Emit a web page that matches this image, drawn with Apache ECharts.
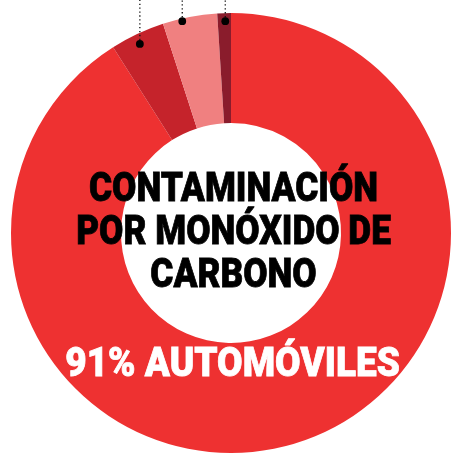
<!DOCTYPE html>
<html>
<head>
<meta charset="utf-8">
<script src="https://cdn.jsdelivr.net/npm/echarts@6/dist/echarts.min.js"></script>
<style>
html,body{margin:0;padding:0;background:#fff;}
#chart{width:451px;height:454px;}
</style>
</head>
<body>
<div id="chart"></div>
<script>
// ---- data ----
const categories = ['AUTOMÓVILES', 'Fuente 2', 'Fuente 3', 'Fuente 4'];
const shares = [91, 4, 4, 1];
const sliceColors = ['#EE3131', '#C5232B', '#F08080', '#8A1C2C'];
const titleLines = ['CONTAMINACIÓN', 'POR MONÓXIDO DE', 'CARBONO'];
// callout markers: position along the ring (share units, 0-100) and depth (% of outer radius)
const calloutAt = [92.85, 96.4, 99.57];
const calloutDepth = [95.4, 98.8, 96.3];

const cx = 231, cy = 233, rOut = 220, rIn = 110;

const chart = echarts.init(document.getElementById('chart'), null, {renderer: 'canvas'});

const mainLabel = shares[0] + '% ' + categories[0];

const option = {
  animation: false,
  backgroundColor: '#ffffff',
  polar: {center: [cx, cy], radius: rOut},
  angleAxis: {type: 'value', min: 0, max: 100, startAngle: 90, clockwise: true, show: false},
  radiusAxis: {type: 'value', min: 0, max: 100, show: false},
  series: [
    {
      type: 'pie',
      z: 1,
      center: [cx, cy],
      radius: [rIn, rOut],
      startAngle: 90,
      clockwise: true,
      silent: true,
      label: {show: false},
      labelLine: {show: false},
      data: categories.map((c, i) => ({
        name: c, value: shares[i],
        itemStyle: {color: sliceColors[i], borderWidth: 0}
      }))
    },
    {
      type: 'custom',
      coordinateSystem: 'polar',
      z: 20,
      silent: true,
      data: calloutAt.map((a, i) => [calloutDepth[i], a]),
      renderItem: function (params, api) {
        const p = api.coord([api.value(0), api.value(1)]);
        return {
          type: 'group',
          children: [
            {type: 'line', shape: {x1: p[0], y1: p[1], x2: p[0], y2: 0},
             style: {stroke: '#111', lineWidth: 1.3, lineDash: [1.3, 2.6]}},
            {type: 'circle', shape: {cx: p[0], cy: p[1], r: 3.9}, style: {fill: '#000'}}
          ]
        };
      }
    }
  ],
  graphic: [
    ...titleLines.map((t, i) => ({
      type: 'text',
      z: 100,
      x: cx + 2.5, y: 190.5 + i * 43.3,
      scaleX: 0.86,
      style: {text: t, font: '900 41px Roboto', fill: '#000', align: 'center', verticalAlign: 'middle',
              stroke: '#000', lineWidth: 0.8}
    })),
    {
      type: 'text',
      z: 100,
      x: cx + 1.5, y: 365.5,
      scaleX: 0.925,
      style: {text: mainLabel, font: '900 40px Roboto', fill: '#fff', align: 'center', verticalAlign: 'middle',
              stroke: '#fff', lineWidth: 0.8}
    }
  ]
};
chart.setOption(option);
</script>
</body>
</html>
